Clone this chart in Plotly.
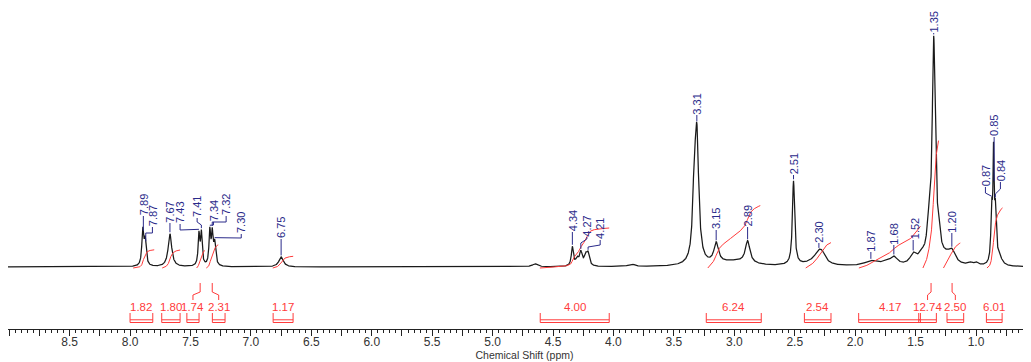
import numpy as np
import plotly.graph_objects as go

# ---------------- data ----------------
# peak model: centre (ppm), height (a.u.), width (ppm)
peak_ppm = [7.895, 7.875, 7.67, 7.43, 7.41, 7.34, 7.32, 7.30, 6.75,
            4.65, 4.34, 4.30, 4.27, 4.23, 4.21, 3.85,
            3.332, 3.31, 3.15, 2.89, 3.00, 2.51, 2.33, 2.30, 2.27,
            1.87, 1.75, 1.68, 1.52, 1.45, 1.39, 1.35, 1.31, 1.25, 1.20,
            1.05, 1.00, 0.87, 0.855, 0.84, 0.81]
peak_h = [35, 25, 33, 31, 32, 34, 30, 22, 10,
          3, 19, 7, 13, 10, 11, 2.5,
          58, 124, 20, 22, 5, 84, 4, 10, 6,
          5, 3, 8, 10, 8, 30, 218, 20, 6, 12,
          2.5, 3, 52, 100, 48, 10]
peak_w = [0.018, 0.02, 0.035, 0.016, 0.016, 0.016, 0.016, 0.02, 0.045,
          0.05, 0.02, 0.03, 0.025, 0.03, 0.025, 0.06,
          0.03, 0.037, 0.045, 0.045, 0.35, 0.022, 0.2, 0.08, 0.06,
          0.12, 0.1, 0.07, 0.06, 0.06, 0.04, 0.03, 0.04, 0.1, 0.07,
          0.04, 0.04, 0.016, 0.011, 0.016, 0.05]

# peak labels: label value, text x (ppm), text bottom (a.u.), elbow heights
label_txt = ["7.89", "7.87", "7.67", "7.43", "7.41", "7.34", "7.32", "7.30", "6.75",
             "4.34", "4.27", "4.21", "3.31", "3.15", "2.89", "2.51", "2.30",
             "1.87", "1.68", "1.52", "1.35", "1.20", "0.87", "0.85", "0.84"]
label_pk = [7.89, 7.87, 7.67, 7.43, 7.41, 7.34, 7.32, 7.30, 6.75,
            4.34, 4.27, 4.21, 3.31, 3.15, 2.89, 2.51, 2.30,
            1.87, 1.68, 1.52, 1.35, 1.20, 0.87, 0.85, 0.84]
label_x = [7.89, 7.815, 7.67, 7.586, 7.445, 7.31, 7.205, 7.08, 6.75,
           4.34, 4.22, 4.11, 3.31, 3.15, 2.89, 2.51, 2.30,
           1.87, 1.68, 1.51, 1.35, 1.20, 0.922, 0.85, 0.798]
label_y = [51, 40, 44, 43, 49, 45, 51, 33, 28,
           35, 30, 27, 152, 37, 40, 92, 24,
           15, 22, 27, 234, 34, 80, 130, 85]
elbow1 = [None, 34, None, 37, 42, 40, 45, 29, None,
          None, 24, 20, None, None, None, None, None,
          None, None, None, None, None, 70, None, 73]
elbow2 = [None, 34, None, 37, 45, 42, 45, 29, None,
          None, 28, 22, None, None, None, None, None,
          None, None, None, None, None, 74, None, 78]

# integrals: value, curve range (ppm), bracket range (ppm)
int_val = ["1.82", "1.80", "1.74", "2.31", "1.17", "4.00", "6.24", "2.54",
           "4.17", "12.74", "2.50", "6.01"]
int_hi = [7.975, 7.735, 7.45, 7.37, 6.82, 4.61, 3.22, 2.41, 1.97, 1.44, 1.27, 0.91]
int_lo = [7.80, 7.586, 7.38, 7.27, 6.65, 4.035, 2.785, 2.20, 1.46, 1.31, 1.13, 0.78]
br_hi = [8.00, 7.738, 7.53, 7.319, 6.816, 4.606, 3.232, 2.42, 1.971, 1.474, 1.24, 0.914]
br_lo = [7.812, 7.586, 7.429, 7.214, 6.651, 4.035, 2.777, 2.20, 1.46, 1.328, 1.102, 0.784]
# displaced brackets: connector top x (ppm)
conn_x = [None, None, 7.42, 7.32, None, None, None, None, None, 1.372, 1.198, None]

tick_vals = [9.0 - 0.25 * i for i in range(35)]

# ---------------- build ----------------
X_LEFT, X_RIGHT = 9.01, 0.4622
x = np.linspace(X_LEFT, X_RIGHT, 8549)
pp = np.array(peak_ppm)[:, None]
hh = np.array(peak_h)[:, None]
ww = np.array(peak_w)[:, None]
y = (hh / (1.0 + ((x[None, :] - pp) / (ww / 2.0)) ** 2)).sum(axis=0)


def spec_at(v):
    return float(np.interp(v, x[::-1], y[::-1]))


FONT = "Arial, Liberation Sans"
RED = "#ff3b3b"
BLUE = "#2a2a8a"

fig = go.Figure()

# spectrum
fig.add_trace(go.Scatter(x=x, y=y, mode="lines",
                         line=dict(color="#1a1a1a", width=1.25),
                         hoverinfo="skip", showlegend=False))

# integral curves (rising from high ppm to low ppm)
ix, iy = [], []
for v, hi, lo in zip(int_val, int_hi, int_lo):
    m = (x <= hi) & (x >= lo)
    xs = x[m]
    ys = y[m]
    c = np.concatenate([[0], np.cumsum((ys[1:] + ys[:-1]) / 2 * np.abs(np.diff(xs)))])
    c = c / c[-1] * float(v) * 10.0 - 1.0
    ix += list(xs) + [None]
    iy += list(c) + [None]
fig.add_trace(go.Scatter(x=ix, y=iy, mode="lines",
                         line=dict(color=RED, width=1),
                         hoverinfo="skip", showlegend=False))

# brackets and connectors
bx, by = [], []
for i, (hi, lo) in enumerate(zip(br_hi, br_lo)):
    bx += [hi, hi, lo, lo, None, hi, lo, None]
    by += [-46, -55.5, -55.5, -46, None, -52.8, -52.8, None]
    if conn_x[i] is not None:
        cen = (hi + lo) / 2
        bx += [conn_x[i], conn_x[i], cen, cen, None]
        by += [-16, -25, -28, -33, None]
fig.add_trace(go.Scatter(x=bx, y=by, mode="lines",
                         line=dict(color=RED, width=1),
                         hoverinfo="skip", showlegend=False))

annotations = []
for v, hi, lo in zip(int_val, br_hi, br_lo):
    annotations.append(dict(x=(hi + lo) / 2, y=-40, text=v, showarrow=False,
                            xref="x", yref="y", xanchor="center", yanchor="middle",
                            font=dict(family=FONT, size=11.5, color=RED)))


def text_len(s, size=11):
    return sum((0.278 if ch == "." else 0.556) for ch in s) * size


# peak label leaders
lx_, ly_ = [], []
for i, pk in enumerate(label_pk):
    top = spec_at(pk) + 1.5
    if elbow1[i] is None:
        lx_ += [pk, pk, None]
        ly_ += [top, label_y[i], None]
    else:
        lx_ += [pk, pk, label_x[i], label_x[i], None]
        ly_ += [top, max(elbow1[i], top), elbow2[i], label_y[i], None]
    annotations.append(dict(x=label_x[i], y=label_y[i] + text_len(label_txt[i]) / 2 + 0.5,
                            text=label_txt[i], showarrow=False,
                            xref="x", yref="y", textangle=-90, xanchor="center",
                            yanchor="middle", borderpad=0,
                            font=dict(family=FONT, size=11, color=BLUE)))
fig.add_trace(go.Scatter(x=lx_, y=ly_, mode="lines",
                         line=dict(color=BLUE, width=1),
                         hoverinfo="skip", showlegend=False))

tick_text = [("%.1f" % t) if (abs(t * 2 - round(t * 2)) < 1e-9 and t < 8.9) else ""
             for t in tick_vals]

# the page body adds an 8px margin on top/left; the right end runs just past the window
fig.update_layout(
    width=1033, height=354,
    margin=dict(l=0, r=0, t=0, b=33),
    paper_bgcolor="white", plot_bgcolor="white",
    showlegend=False,
    annotations=annotations,
    xaxis=dict(range=[X_LEFT, X_RIGHT], showgrid=False, zeroline=False, automargin=False,
               showline=True, linecolor="#222", linewidth=1,
               ticks="outside", ticklen=6, tickcolor="#222",
               tickvals=tick_vals, ticktext=tick_text, ticklabelstandoff=-4,
               minor=dict(dtick=0.05, ticks="outside", ticklen=3, tickcolor="#222"),
               tickfont=dict(family=FONT, size=12, color="#333"),
               title=dict(text="Chemical Shift (ppm)", standoff=0,
                          font=dict(family=FONT, size=10.5, color="#333"))),
    yaxis=dict(range=[-62, 259], visible=False, showgrid=False, zeroline=False,
               automargin=False),
)

fig.write_html("out.html")
